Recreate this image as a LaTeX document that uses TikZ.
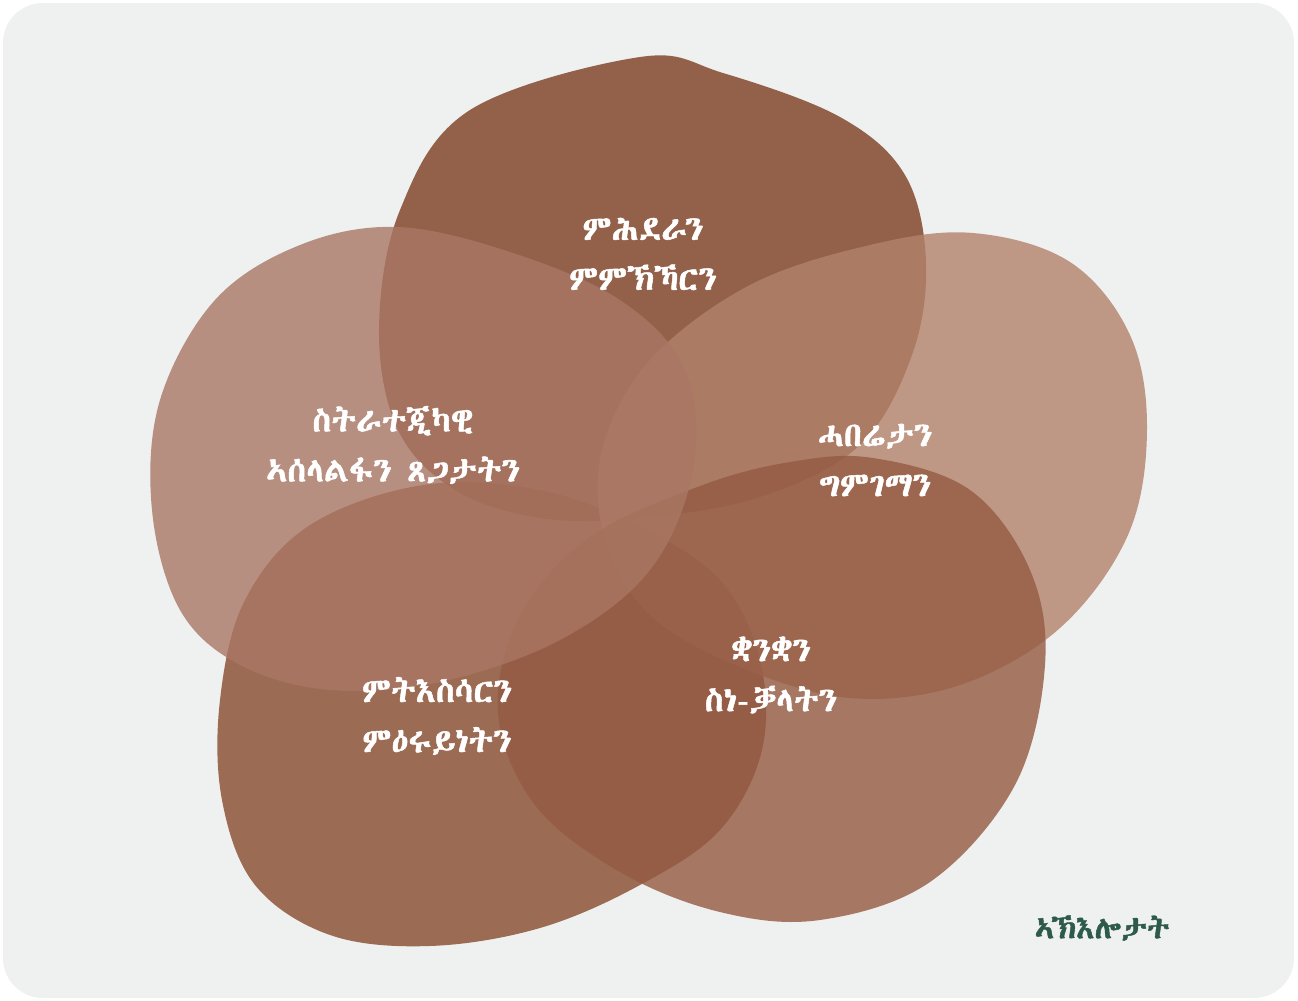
\documentclass[tikz,border=0pt]{standalone}
\usepackage{fontspec}
\usepackage{xcolor}
\usepackage{tikz}
\IfFontExistsTF{FreeSerif.otf}{\newfontfamily\ethfont{FreeSerif.otf}[AutoFakeBold=1.4]}{%
  \IfFontExistsTF{Abyssinica SIL}{\newfontfamily\ethfont{Abyssinica SIL}[AutoFakeBold=1.4]}{%
    \newfontfamily\ethfont{DejaVu Sans}}}
\definecolor{canvas}{HTML}{EFF1F0}
\definecolor{blobTop}{HTML}{7C3E21}
\definecolor{blobLeft}{HTML}{A97764}
\definecolor{blobRight}{HTML}{B3826B}
\definecolor{blobLowR}{HTML}{945A42}
\definecolor{blobLowL}{HTML}{864A2E}
\definecolor{capText}{HTML}{2E5A4B}
\tikzset{
  blobFill/.style={fill=#1, fill opacity=0.8},
  blobLabel/.style={text=white, font=\ethfont\bfseries\fontsize{17}{25}\selectfont, align=center},
  capLabel/.style={text=capText, font=\ethfont\bfseries\fontsize{15.5}{20}\selectfont}
}

\begin{document}
\begin{tikzpicture}[x=0.5pt, y=-0.5pt]
  \useasboundingbox (0,0) rectangle (1298,1001);
  \fill[white] (0,0) rectangle (1298,1001);
  \fill[canvas, rounded corners=20pt] (3,3) rectangle (1294,998);

  % top blob
  \fill[blobFill=blobTop] plot[smooth cycle, tension=0.6] coordinates {
    (640,57) (723,73) (840,117) (905,175) (926,262) (912,355) (860,445)
    (760,497) (640,518) (540,518) (455,490) (398,430) (379,330) (400,210)
    (470,110)};

  % lower left blob
  \fill[blobFill=blobLowL] plot[smooth cycle, tension=0.6] coordinates {
    (423,485) (540,490) (640,527) (720,580) (760,660) (762,750) (720,830)
    (640,885) (540,928) (430,946) (330,935) (255,885) (222,800) (220,700)
    (245,600) (310,525)};

  % right blob
  \fill[blobFill=blobRight] plot[smooth cycle, tension=0.6] coordinates {
    (973,233) (1070,262) (1130,335) (1147,430) (1128,535) (1060,628)
    (960,685) (850,698) (740,667) (650,615) (605,540) (602,450) (650,360)
    (750,285) (870,245)};

  % lower right blob
  \fill[blobFill=blobLowR] plot[smooth cycle, tension=0.6] coordinates {
    (873,458) (970,490) (1030,570) (1045,665) (1015,785) (930,882)
    (820,920) (720,912) (620,872) (535,805) (498,713) (520,615) (590,537)
    (700,486) (790,462)};

  % left blob
  \fill[blobFill=blobLeft] plot[smooth cycle, tension=0.6] coordinates {
    (397,227) (510,252) (620,300) (685,370) (693,470) (650,570) (560,640)
    (440,682) (330,690) (240,665) (180,610) (152,510) (160,400) (215,300)
    (300,245)};

  \node[blobLabel] (gov) at (643,254) {ምሕደራን\\ምምኽኻርን};
  \node[blobLabel] (strat) at (393,445) {ስትራተጂካዊ\\ኣሰላልፋን ጸጋታትን};
  \node[blobLabel] (info) at (875,460) {ሓበሬታን\\ግምገማን};
  \node[blobLabel] (lang) at (771,675) {ቋንቋን\\ስነ-ቓላትን};
  \node[blobLabel] (link) at (437,716) {ምትእስሳርን\\ምዕሩይነትን};

  \node[capLabel] (cap) at (1102,928) {ኣኽእሎታት};
\end{tikzpicture}
\end{document}
